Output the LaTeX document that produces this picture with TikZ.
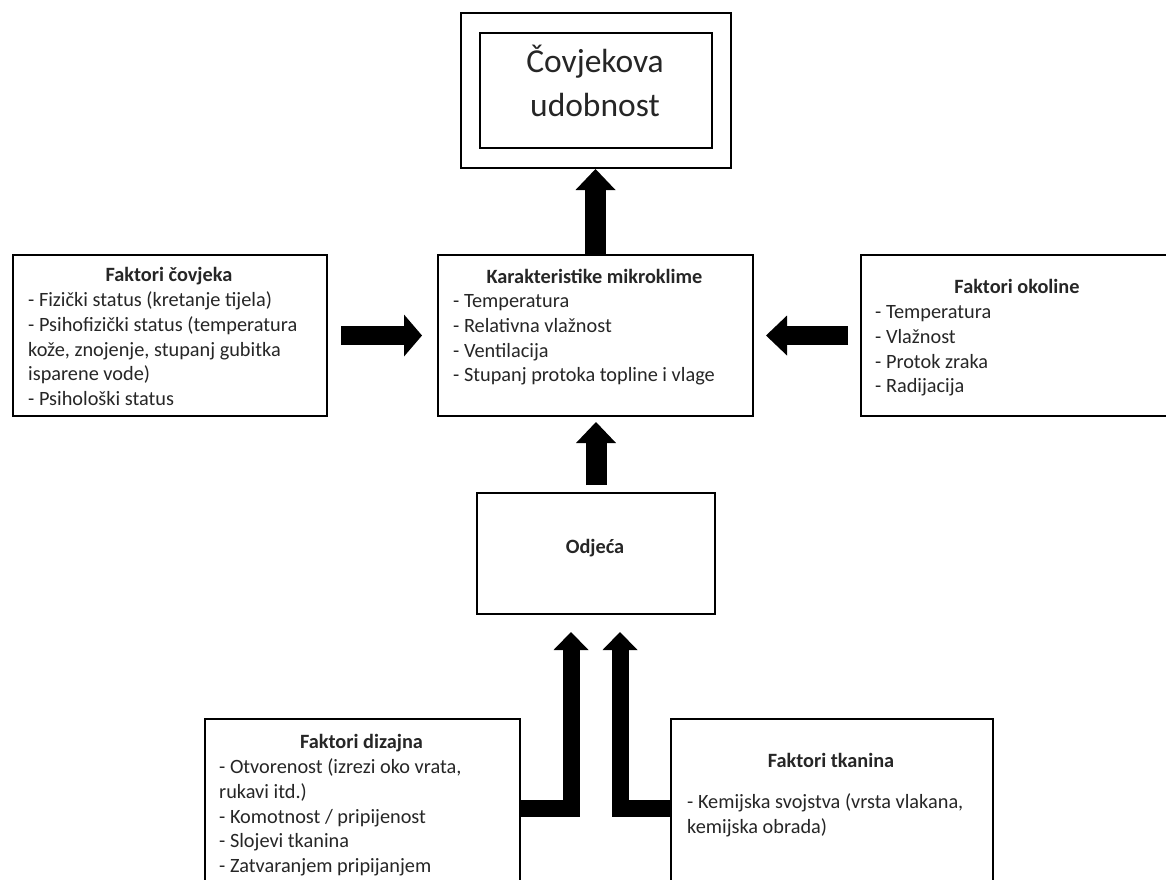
\documentclass[tikz,border=0pt]{standalone}
\usepackage{fontspec}
\setmainfont{Carlito}
\usetikzlibrary{arrows.meta}
\definecolor{txt}{HTML}{262626}
\begin{document}
\begin{tikzpicture}[x=1pt,y=-1pt,
  box/.style={draw=black, line width=2pt, inner sep=0pt, anchor=north west},
  hd/.style={anchor=base, inner sep=0pt, text=txt, font=\fontsize{20.3}{24.7}\selectfont\bfseries},
  bd/.style={anchor=north west, inner sep=0pt, align=left, text=txt, font=\fontsize{20.3}{24.7}\selectfont},
  blk/.style={draw=black, line cap=butt, line join=miter},
  bigtxt/.style={anchor=base, inner sep=0pt, text=txt, font=\fontsize{33.5}{44}\selectfont},
]
\clip (0,0) rectangle (1166,879);
\fill[white] (0,0) rectangle (1166,879);

% top comfort box
\node[box, minimum width=270pt, minimum height=155pt] (outer) at (460,12) {};
\node[box, minimum width=232pt, minimum height=115pt] (inner) at (479,32) {};
\node[bigtxt] (ct1) at (595,72) {Čovjekova};
\node[bigtxt] (ct2) at (595,116) {udobnost};

% left box
\node[box, minimum width=314pt, minimum height=161pt] (cov) at (12,254) {};
\node[hd] (covh) at (169,281.5) {Faktori čovjeka};
\node[bd] (covb) at (28,289.2) {\strut- Fizički status (kretanje tijela)\\- Psihofizički status (temperatura\\kože, znojenje, stupanj gubitka\\isparene vode)\\- Psihološki status};

% center box
\node[box, minimum width=315pt, minimum height=161pt] (kar) at (437,254) {};
\node[hd] (karh) at (594.5,283.5) {Karakteristike mikroklime};
\node[bd] (karb) at (453,290.2) {\strut- Temperatura\\- Relativna vlažnost\\- Ventilacija\\- Stupanj protoka topline i vlage};

% right box
\node[box, minimum width=315pt, minimum height=161pt] (oko) at (860,254) {};
\node[hd] (okoh) at (1017,293.5) {Faktori okoline};
\node[bd] (okob) at (875,301.2) {\strut- Temperatura\\- Vlažnost\\- Protok zraka\\- Radijacija};

% clothing
\node[box, minimum width=238pt, minimum height=121pt] (odj) at (476,492) {};
\node[hd] (odjh) at (595,553.5) {Odjeća};

% design factors
\node[box, minimum width=315pt, minimum height=200pt] (diz) at (204,718) {};
\node[hd] (dizh) at (361.5,748.5) {Faktori dizajna};
\node[bd] (dizb) at (219,756.2) {\strut- Otvorenost (izrezi oko vrata,\\rukavi itd.)\\- Komotnost / pripijenost\\- Slojevi tkanina\\- Zatvaranjem pripijanjem};

% fabric factors
\node[box, minimum width=322pt, minimum height=200pt] (tk) at (670,718) {};
\node[hd] (tkh) at (831,767) {Faktori tkanina};
\node[bd] (tkb) at (687,791.2) {\strut- Kemijska svojstva (vrsta vlakana,\\kemijska obrada)};

% arrows
\draw[blk, line width=21pt, -{Triangle[width=40pt,length=21pt,line width=0pt]}]
  (kar.north) -- (kar.north |- outer.south);
\draw[blk, line width=21pt, -{Triangle[width=40pt,length=21pt,line width=0pt]}, shorten <=7pt, shorten >=5pt]
  (odj.north) -- (odj.north |- kar.south);
\draw[blk, line width=19pt, -{Triangle[width=42pt,length=18pt,line width=0pt]}, shorten <=13pt, shorten >=15pt]
  (cov.east) -- (cov.east -| kar.west);
\draw[blk, line width=19pt, -{Triangle[width=40pt,length=21pt,line width=0pt]}, shorten <=12pt, shorten >=12pt]
  (oko.west) -- (oko.west -| kar.east);
\draw[blk, line width=17pt, -{Triangle[width=35pt,length=18pt,line width=0pt]}]
  ([yshift=-90.5pt]diz.north east) -| ([xshift=-25pt,yshift=-17pt]odj.south);
\draw[blk, line width=17pt, -{Triangle[width=35pt,length=18pt,line width=0pt]}]
  ([yshift=-90.5pt]tk.north west) -| ([xshift=24pt,yshift=-17pt]odj.south);
\end{tikzpicture}
\end{document}
